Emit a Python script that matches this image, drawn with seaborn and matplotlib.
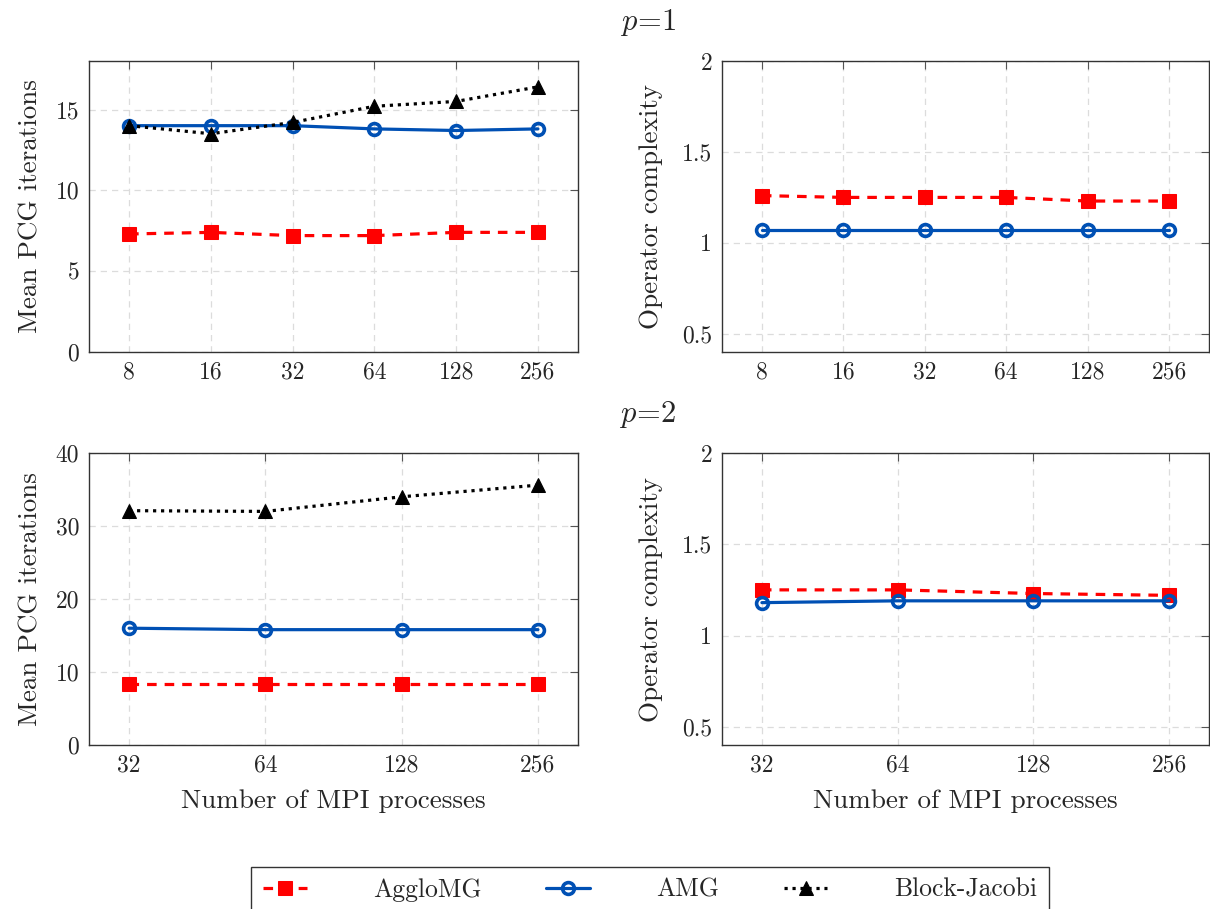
import numpy as np
import matplotlib
matplotlib.use('Agg')
import matplotlib.pyplot as plt
import seaborn as sns

# p=1 data
procs_p1 = [8, 16, 32, 64, 128, 256]
agglo_it_p1 = [7.3, 7.4, 7.2, 7.2, 7.4, 7.4]
amg_it_p1 = [14.0, 14.0, 14.0, 13.8, 13.7, 13.8]
bj_it_p1 = [14.0, 13.5, 14.2, 15.2, 15.5, 16.4]
agglo_oc_p1 = [1.26, 1.25, 1.25, 1.25, 1.23, 1.23]
amg_oc_p1 = [1.07, 1.07, 1.07, 1.07, 1.07, 1.07]

# p=2 data
procs_p2 = [32, 64, 128, 256]
agglo_it_p2 = [8.4, 8.4, 8.4, 8.4]
amg_it_p2 = [16.0, 15.8, 15.8, 15.8]
bj_it_p2 = [32.1, 32.0, 34.0, 35.6]
agglo_oc_p2 = [1.25, 1.25, 1.23, 1.22]
amg_oc_p2 = [1.18, 1.19, 1.19, 1.19]

sns.set_style('white')
plt.rcParams['font.family'] = ['cmr10', 'DejaVu Serif']
plt.rcParams['mathtext.fontset'] = 'cm'
plt.rcParams['axes.formatter.use_mathtext'] = True
plt.rcParams['font.size'] = 17

RED = '#ff0000'
BLUE = '#0050b4'
styles = {
    'AggloMG': dict(color=RED, marker='s', linestyle=(0, (3, 2.5)), markersize=10, linewidth=2.3,
                    markeredgecolor=RED),
    'AMG': dict(color=BLUE, marker='o', linestyle='-', markersize=8.5, linewidth=2.3,
                markerfacecolor='none', markeredgewidth=2.6, markeredgecolor=BLUE),
    'Block-Jacobi': dict(color='black', marker='^', linestyle=(0, (1, 1.5)), markersize=10, linewidth=2.3,
                         markeredgecolor='black'),
}

fig = plt.figure(figsize=(12.1, 9.09), dpi=100)
W, H = 1210, 909


def make_ax(x0, y0, x1, y1):
    return fig.add_axes([x0 / W, 1 - y1 / H, (x1 - x0) / W, (y1 - y0) / H])


def style_ax(ax, procs, margin, ylim, yticks, yticklabels, ylabel, ypad, xlabel=None):
    ax.set_xscale('log', base=2)
    ax.set_xlim(procs[0] / 2 ** margin, procs[-1] * 2 ** margin)
    ax.set_xticks(procs)
    ax.set_xticklabels([str(p) for p in procs])
    ax.minorticks_off()
    ax.set_ylim(*ylim)
    ax.set_yticks(yticks)
    ax.set_yticklabels(yticklabels)
    ax.set_ylabel(ylabel, fontsize=19.5, labelpad=ypad)
    if xlabel:
        ax.set_xlabel(xlabel, fontsize=19.5, labelpad=9)
    ax.grid(True, linestyle=(0, (5, 4)), color='#dcdcdc', linewidth=0.9)
    ax.tick_params(direction='in', top=True, right=True, length=6, color='#555555', labelsize=17, pad=7)
    for s in ax.spines.values():
        s.set_color('#333333')
        s.set_linewidth(1.0)


def draw(ax, x, series):
    for name, y in series:
        sns.lineplot(x=x, y=y, ax=ax, label=name, legend=False, **styles[name])


ax1 = make_ax(89, 61, 578, 352)
draw(ax1, procs_p1, [('AggloMG', agglo_it_p1), ('AMG', amg_it_p1), ('Block-Jacobi', bj_it_p1)])
style_ax(ax1, procs_p1, 0.49, (0, 18), [0, 5, 10, 15], ['0', '5', '10', '15'], 'Mean PCG iterations', 9.5)

ax2 = make_ax(722, 61, 1209, 352)
draw(ax2, procs_p1, [('AggloMG', agglo_oc_p1), ('AMG', amg_oc_p1)])
style_ax(ax2, procs_p1, 0.49, (0.4, 2), [0.5, 1, 1.5, 2], ['0.5', '1', '1.5', '2'], 'Operator complexity', 14)

ax3 = make_ax(89, 453, 578, 745)
draw(ax3, procs_p2, [('AggloMG', agglo_it_p2), ('AMG', amg_it_p2), ('Block-Jacobi', bj_it_p2)])
style_ax(ax3, procs_p2, 0.294, (0, 40), [0, 10, 20, 30, 40], ['0', '10', '20', '30', '40'],
         'Mean PCG iterations', 9.5, 'Number of MPI processes')

ax4 = make_ax(722, 453, 1209, 745)
draw(ax4, procs_p2, [('AggloMG', agglo_oc_p2), ('AMG', amg_oc_p2)])
style_ax(ax4, procs_p2, 0.294, (0.4, 2), [0.5, 1, 1.5, 2], ['0.5', '1', '1.5', '2'],
         'Operator complexity', 14, 'Number of MPI processes')

fig.text(648 / W, 1 - 22 / H, r'$p\!=\!1$', ha='center', va='center', fontsize=22)
fig.text(648 / W, 1 - 415 / H, r'$p\!=\!2$', ha='center', va='center', fontsize=22)

handles, labels = ax1.get_legend_handles_labels()
leg = fig.legend(handles, labels, loc='center', bbox_to_anchor=(650 / W, 1 - 890 / H), ncol=3,
                 frameon=True, fancybox=False, edgecolor='black', handlelength=1.7,
                 handletextpad=2.6, columnspacing=2.5, fontsize=18.5, borderpad=0.45)
leg.get_frame().set_linewidth(1.0)

fig.savefig('out.png', dpi=100)
